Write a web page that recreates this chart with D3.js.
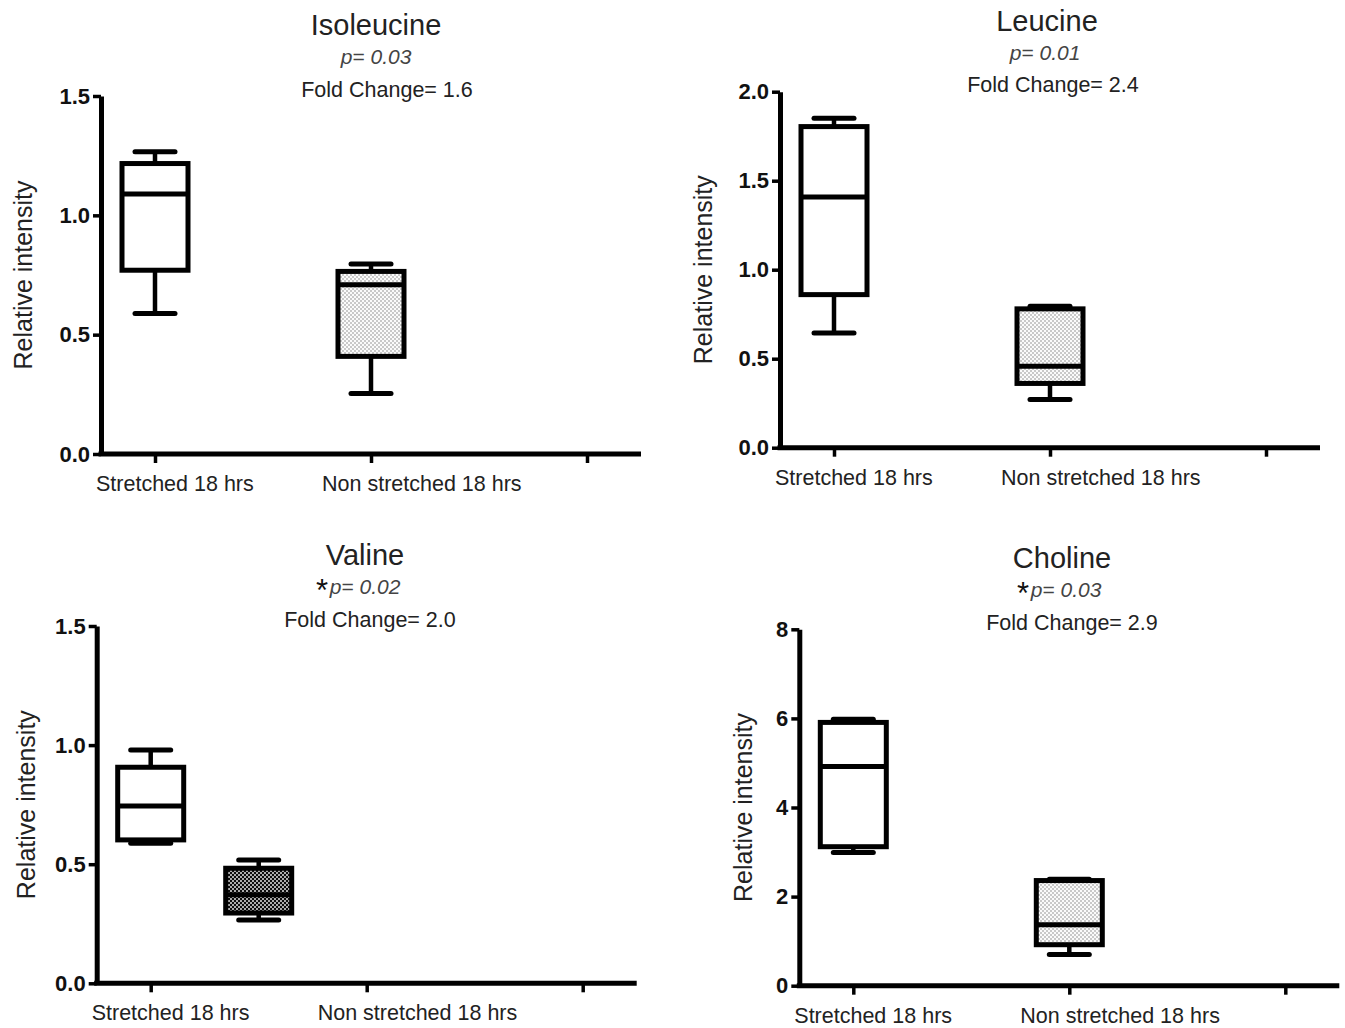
<!DOCTYPE html>
<html>
<head>
<meta charset="utf-8">
<script src="https://cdn.jsdelivr.net/npm/d3@7"></script>
<style>
  html, body { margin: 0; padding: 0; background: #fff; }
  svg { display: block; }
  text { font-family: "Liberation Sans", Arial, Helvetica, sans-serif; }
</style>
</head>
<body>
<svg id="chart" width="1345" height="1028"></svg>
<script>
// ---- data ----
const panelNames = ["Isoleucine", "Leucine", "Valine", "Choline"];
const pValues = ["0.03", "0.01", "0.02", "0.03"];
const foldChanges = ["1.6", "2.4", "2.0", "2.9"];
const starred = [false, false, true, true];
const groupNames = ["Stretched 18 hrs", "Non stretched 18 hrs"];
const yMaxima = [1.5, 2.0, 1.5, 8];
const yTickValues = [[0, 0.5, 1.0, 1.5], [0, 0.5, 1.0, 1.5, 2.0], [0, 0.5, 1.0, 1.5], [0, 2, 4, 6, 8]];
const yTickFormats = [".1f", ".1f", ".1f", "d"];

// five-number summaries: [min, Q1, median, Q3, max]
const isoleucineStretched    = [0.589, 0.770, 1.089, 1.217, 1.266];
const isoleucineNonStretched = [0.253, 0.409, 0.709, 0.765, 0.796];
const leucineStretched       = [0.645, 0.860, 1.408, 1.804, 1.851];
const leucineNonStretched    = [0.271, 0.361, 0.458, 0.780, 0.794];
const valineStretched        = [0.588, 0.602, 0.744, 0.907, 0.979];
const valineNonStretched     = [0.266, 0.295, 0.372, 0.483, 0.518];
const cholineStretched       = [2.99, 3.12, 4.92, 5.91, 5.98];
const cholineNonStretched    = [0.70, 0.92, 1.37, 2.36, 2.39];

const panelSummaries = [
  [isoleucineStretched, isoleucineNonStretched],
  [leucineStretched, leucineNonStretched],
  [valineStretched, valineNonStretched],
  [cholineStretched, cholineNonStretched]
];

// ---- layout ----
// column slot for each box on the x scale (Valine's second box sits between columns)
const boxSlots = [[0, 1], [0, 1], [0, 0.5], [0, 1]];
const layouts = [
  { axisX: 101,   zeroY: 454,   topY: 96,    titleX: 376,  pX: 376,  fcX: 387,  yLabelX: 32 },
  { axisX: 780,   zeroY: 447.7, topY: 91.7,  titleX: 1047, pX: 1045, fcX: 1053, yLabelX: 712 },
  { axisX: 96.7,  zeroY: 983.3, topY: 626,   titleX: 365,  pX: 365,  fcX: 370,  yLabelX: 35 },
  { axisX: 799.3, zeroY: 985.7, topY: 629.3, titleX: 1062, pX: 1066, fcX: 1072, yLabelX: 752 }
];
const axisLength = 540;
const boxWidth = 66;
const capWidth = 40;
const lineW = 5;

const svg = d3.select("#chart");
const defs = svg.append("defs");

// light stipple fill
const stipple = defs.append("pattern")
  .attr("id", "stipple").attr("patternUnits", "userSpaceOnUse")
  .attr("width", 4).attr("height", 4);
stipple.append("rect").attr("width", 4).attr("height", 4).attr("fill", "#fbfbfb");
stipple.append("circle").attr("cx", 1).attr("cy", 1).attr("r", 0.8).attr("fill", "#8a8a8a");
stipple.append("circle").attr("cx", 3).attr("cy", 3).attr("r", 0.8).attr("fill", "#8a8a8a");

// dark checker fill
const checker = defs.append("pattern")
  .attr("id", "checker").attr("patternUnits", "userSpaceOnUse")
  .attr("width", 4).attr("height", 4);
checker.append("rect").attr("width", 4).attr("height", 4).attr("fill", "#0d0d0d");
checker.append("circle").attr("cx", 1).attr("cy", 1).attr("r", 0.95).attr("fill", "#f0f0f0");
checker.append("circle").attr("cx", 3).attr("cy", 3).attr("r", 0.95).attr("fill", "#f0f0f0");

const groupFills = [
  ["#fff", "url(#stipple)"],
  ["#fff", "url(#stipple)"],
  ["#fff", "url(#checker)"],
  ["#fff", "url(#stipple)"]
];

// horizontal placement of the category labels relative to their tick
const labelStartOffsets = [-59, -49];

panelNames.forEach((name, i) => {
  const L = layouts[i];
  const g = svg.append("g");

  const x = d3.scaleLinear().domain([-0.25, 2.25]).range([L.axisX, L.axisX + axisLength]);
  const y = d3.scaleLinear().domain([0, yMaxima[i]]).range([L.zeroY, L.topY]);

  // titles
  g.append("text").attr("x", L.titleX).attr("y", L.topY - 61)
    .attr("text-anchor", "middle").attr("font-size", 29).attr("fill", "#222")
    .text(name);
  g.append("text").attr("x", L.pX).attr("y", L.topY - 32)
    .attr("text-anchor", "middle").attr("font-size", 21).attr("font-style", "italic")
    .attr("fill", "#444").text("p= " + pValues[i]);
  if (starred[i]) {
    g.append("text").attr("x", L.pX - 37).attr("y", L.topY - 25)
      .attr("text-anchor", "end").attr("font-size", 31).attr("fill", "#111")
      .text("*");
  }
  g.append("text").attr("x", L.fcX).attr("y", L.topY + 0.5)
    .attr("text-anchor", "middle").attr("font-size", 21.5).attr("fill", "#222")
    .text("Fold Change= " + foldChanges[i]);

  // y axis
  const yAxis = g.append("g").attr("transform", `translate(${L.axisX},0)`)
    .call(d3.axisLeft(y).tickValues(yTickValues[i]).tickFormat(d3.format(yTickFormats[i]))
      .tickSize(8).tickSizeOuter(0).tickPadding(3));
  yAxis.select(".domain").attr("stroke", "#000").attr("stroke-width", lineW);
  yAxis.selectAll(".tick line").attr("stroke", "#000").attr("stroke-width", 3.5);
  yAxis.selectAll(".tick text").attr("font-size", 22).attr("font-weight", "bold")
    .attr("fill", "#111").attr("font-family", "'Liberation Sans', Arial, sans-serif");

  // x axis
  const xAxis = g.append("g").attr("transform", `translate(0,${L.zeroY})`)
    .call(d3.axisBottom(x).tickValues([0, 1, 2]).tickFormat("").tickSize(9).tickSizeOuter(0));
  xAxis.select(".domain").attr("stroke", "#000").attr("stroke-width", lineW)
    .attr("d", `M${L.axisX - lineW / 2},0H${L.axisX + axisLength}`);
  xAxis.selectAll(".tick line").attr("stroke", "#000").attr("stroke-width", 3.5);

  // category labels
  groupNames.forEach((gn, k) => {
    g.append("text").attr("x", x(k) + labelStartOffsets[k]).attr("y", L.zeroY + 37)
      .attr("font-size", 21.5).attr("fill", "#222").text(gn);
  });

  // y axis title
  g.append("text")
    .attr("transform", `translate(${L.yLabelX},${(L.zeroY + L.topY) / 2}) rotate(-90)`)
    .attr("text-anchor", "middle").attr("font-size", 25).attr("fill", "#222")
    .text("Relative intensity");

  // boxes
  panelSummaries[i].forEach((s, k) => {
    const cx = x(boxSlots[i][k]);
    const [mn, q1, med, q3, mx] = s;
    const bg = g.append("g");
    // whiskers
    bg.append("line").attr("x1", cx).attr("x2", cx).attr("y1", y(mx)).attr("y2", y(q3))
      .attr("stroke", "#000").attr("stroke-width", 4.5);
    bg.append("line").attr("x1", cx).attr("x2", cx).attr("y1", y(q1)).attr("y2", y(mn))
      .attr("stroke", "#000").attr("stroke-width", 4.5);
    bg.append("line").attr("x1", cx - capWidth / 2).attr("x2", cx + capWidth / 2)
      .attr("y1", y(mx)).attr("y2", y(mx))
      .attr("stroke", "#000").attr("stroke-width", lineW).attr("stroke-linecap", "round");
    bg.append("line").attr("x1", cx - capWidth / 2).attr("x2", cx + capWidth / 2)
      .attr("y1", y(mn)).attr("y2", y(mn))
      .attr("stroke", "#000").attr("stroke-width", lineW).attr("stroke-linecap", "round");
    // box
    bg.append("rect").attr("x", cx - boxWidth / 2).attr("y", y(q3))
      .attr("width", boxWidth).attr("height", y(q1) - y(q3))
      .attr("fill", groupFills[i][k]).attr("stroke", "#000").attr("stroke-width", lineW);
    // median
    bg.append("line").attr("x1", cx - boxWidth / 2).attr("x2", cx + boxWidth / 2)
      .attr("y1", y(med)).attr("y2", y(med))
      .attr("stroke", "#000").attr("stroke-width", lineW);
  });
});
</script>
</body>
</html>
